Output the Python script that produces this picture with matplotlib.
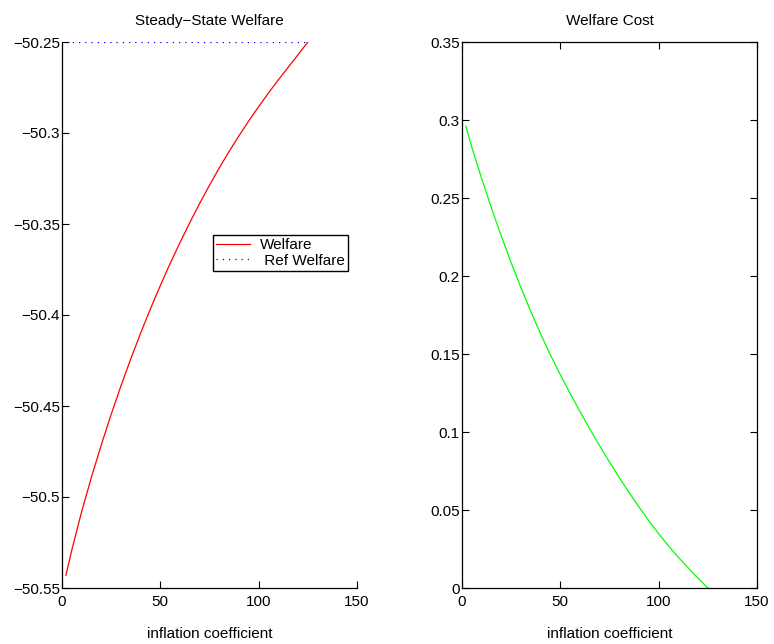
import matplotlib
matplotlib.use("Agg")
import matplotlib.pyplot as plt
from matplotlib.ticker import FuncFormatter

plt.rcParams["font.family"] = ["Liberation Sans", "DejaVu Sans"]
plt.rcParams["font.size"] = 11

# ---------------------------------------------------------------------------
# Data
# ---------------------------------------------------------------------------
infl_coef = [2, 5, 10, 15, 20, 25, 30, 35, 40, 45, 50, 55, 60, 65,
             70, 75, 80, 85, 90, 95, 100, 105, 110, 115, 120, 125]
welfare = [-50.543, -50.529, -50.508, -50.489, -50.4713, -50.4546, -50.4389,
           -50.4240, -50.4099, -50.3965, -50.3838, -50.3717, -50.3602,
           -50.3492, -50.3387, -50.3287, -50.3191, -50.3101, -50.3015,
           -50.2933, -50.2855, -50.2780, -50.2708, -50.2639, -50.2570,
           -50.2500]
ref_welfare = [-50.25] * len(infl_coef)
welfare_cost = [0.296, 0.2825, 0.2625, 0.2435, 0.2255, 0.2085, 0.1925,
                0.1772, 0.1628, 0.1493, 0.1367, 0.1247, 0.1131, 0.1019,
                0.0911, 0.0807, 0.0707, 0.0611, 0.0519, 0.0431, 0.0348,
                0.0270, 0.0197, 0.0129, 0.0063, 0.0]

x_ticks = [0, 50, 100, 150]
left_yticks = [-50.55, -50.5, -50.45, -50.4, -50.35, -50.3, -50.25]
right_yticks = [0, 0.05, 0.1, 0.15, 0.2, 0.25, 0.3, 0.35]


def fmt_g(v, _pos):
    return f"{v:g}".replace("-", "\u2212")


fig = plt.figure(figsize=(7.74, 6.44), dpi=100)
W, H = 774, 644
ax1 = fig.add_axes([62 / W, 56 / H, 295 / W, 546 / H])
ax2 = fig.add_axes([462 / W, 56 / H, 295 / W, 546 / H])

# ── left: steady-state welfare ─────────────────────────────────────────────
ax1.plot(infl_coef, welfare, color="#ff0000", lw=0.9, label="Welfare")
ax1.plot(infl_coef, ref_welfare, color="#0000ff", lw=0.9, ls=(0, (1, 4)),
         label=" Ref Welfare")
ax1.set_xlim(0, 150)
ax1.set_ylim(-50.55, -50.25)
ax1.set_xticks(x_ticks)
ax1.set_yticks(left_yticks)
ax1.yaxis.set_major_formatter(FuncFormatter(fmt_g))
ax1.spines["top"].set_visible(False)
ax1.spines["right"].set_visible(False)
ax1.set_title("Steady\u2212State Welfare", fontsize=11, pad=12)
ax1.set_xlabel("inflation coefficient", fontsize=11, labelpad=13)
leg = ax1.legend(loc="upper left", bbox_to_anchor=(0.512, 0.6465),
                 frameon=True, fancybox=False, framealpha=1,
                 edgecolor="black", borderpad=0.2, borderaxespad=0,
                 handlelength=2.2, handletextpad=0.7, labelspacing=0.1,
                 fontsize=11)
leg.get_frame().set_linewidth(1.0)

# ── right: welfare cost ────────────────────────────────────────────────────
ax2.plot(infl_coef, welfare_cost, color="#00ff00", lw=0.9)
ax2.set_xlim(0, 150)
ax2.set_ylim(0, 0.35)
ax2.set_xticks(x_ticks)
ax2.set_yticks(right_yticks)
ax2.yaxis.set_major_formatter(FuncFormatter(fmt_g))
ax2.tick_params(top=True, right=True)
ax2.set_title("Welfare Cost", fontsize=11, pad=12)
ax2.set_xlabel("inflation coefficient", fontsize=11, labelpad=13)

for ax in (ax1, ax2):
    ax.tick_params(direction="in", length=5, width=0.8, labelsize=11)
    ax.tick_params(axis="x", pad=5)
    ax.tick_params(axis="y", pad=1.5)
    for sp in ax.spines.values():
        sp.set_linewidth(0.9)

fig.savefig("out.png", dpi=100)
